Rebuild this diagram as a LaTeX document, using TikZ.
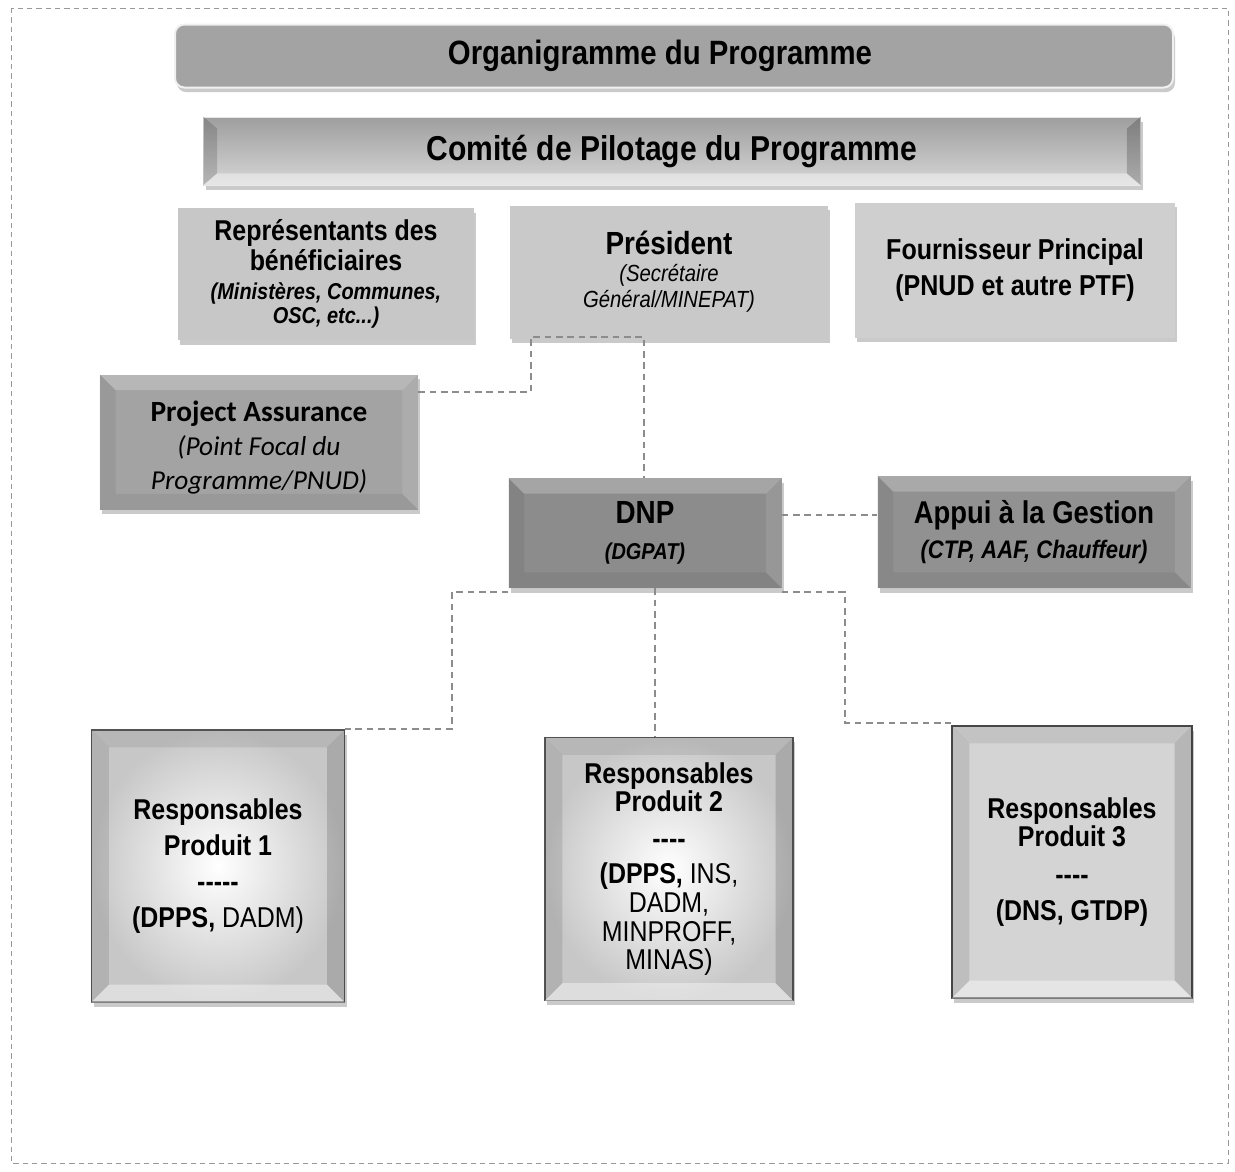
\documentclass[tikz,border=0pt]{standalone}
\usepackage{fontspec}
\setmainfont{Liberation Sans}[FakeStretch=0.87]
\newfontfamily\calibri{Carlito}
\usepackage{tikz}
\usetikzlibrary{calc,shadows}

\begin{document}
\begin{tikzpicture}[x=0.75pt,y=0.75pt,yscale=-1,xscale=1,
  box/.style={inner sep=0pt, align=center, text=black},
  shade/.style={drop shadow={shadow xshift=1.5pt, shadow yshift=-3.5pt, opacity=0.35, fill=black!60}},
  link/.style={draw=black!45, line width=0.9pt, dash pattern=on 5pt off 3.5pt}]
\useasboundingbox (0,0) rectangle (1235,1171);

%Frame
\draw [black!40, line width=0.6pt, dash pattern=on 4pt off 3pt] (11,8) rectangle (1228,1163);

% Title bars
\node [box, shade, fill=black!36, draw=black!6, line width=1.5pt, rounded corners=7pt, minimum width=748.5pt, minimum height=47.25pt, font=\bfseries\fontsize{25.3}{29}\selectfont] (titre) at (674,56) {Organigramme du Programme\hspace{21pt}\mbox{}};
\node [box, shade, top color=black!38, bottom color=black!16, draw=black!10, minimum width=702.75pt, minimum height=51pt, font=\bfseries\fontsize{25.9}{29}\selectfont] (comite) at (672,151) {Comité de Pilotage du Programme};

% Board members
\node [box, shade, fill=black!22, minimum width=222pt, minimum height=99pt, font=\bfseries\fontsize{21.5}{22.5}\selectfont] (repr) at (326,274) {Représentants des\\bénéficiaires\\[-1pt]{\itshape\fontsize{17.2}{18}\selectfont (Ministères, Communes,}\\[-4pt]{\itshape\fontsize{17.2}{18}\selectfont OSC, etc...)}};
\node [box, shade, fill=black!21, minimum width=238.5pt, minimum height=99.75pt, font=\fontsize{17.5}{19.5}\selectfont] (pres) at (669,272) {{\bfseries\fontsize{24}{24}\selectfont Président}\\[1pt]{\itshape (Secrétaire}\\{\itshape Général/MINEPAT)}};
\node [box, shade, fill=black!19, minimum width=240pt, minimum height=101.25pt, font=\bfseries\fontsize{21.6}{27}\selectfont] (fourn) at (1015,270) {Fournisseur Principal\\(PNUD et autre PTF)};

% Management
\node [box, shade, fill=black!36, minimum width=238.5pt, minimum height=101.25pt, font=\calibri\fontsize{20.5}{25.5}\selectfont] (pa) at (259,442) {{\bfseries\fontsize{22}{26}\selectfont\rule{0pt}{24pt}Project Assurance}\\{\itshape (Point Focal du}\\{\itshape Programme/PNUD)}};
\node [box, shade, fill=black!45, minimum width=204.75pt, minimum height=82.5pt, font=\fontsize{17.2}{27}\selectfont] (dnp) at (645,533) {{\bfseries\fontsize{24}{24}\selectfont DNP}\\{\bfseries\itshape (DGPAT)}};
\node [box, shade, fill=black!43, minimum width=234.75pt, minimum height=84pt, font=\fontsize{19}{26}\selectfont] (appui) at (1034,532) {{\bfseries\fontsize{23.6}{24}\selectfont Appui à la Gestion}\\{\bfseries\itshape (CTP, AAF, Chauffeur)}};

% Products
\node [box, shade, inner color=white, outer color=black!22, draw=black!65, line width=0.8pt, minimum width=189.75pt, minimum height=204pt, font=\bfseries\fontsize{21.5}{27}\selectfont] (prod1) at (218,866) {Responsables\\Produit 1\\-\kern0pt-\kern0pt-\kern0pt-\kern0pt-\\(DPPS, {\mdseries DADM)}};
\node [box, shade, inner color=white, outer color=black!22, draw=black!65, line width=0.8pt, minimum width=186pt, minimum height=197.25pt, font=\bfseries\fontsize{21.5}{21.5}\selectfont] (prod2) at (669,869) {Responsables\\Produit 2\\[6pt]-\kern0pt-\kern0pt-\kern0pt-\\[5pt](DPPS, {\mdseries INS,}\\{\mdseries DADM,}\\{\mdseries MINPROFF,}\\{\mdseries MINAS)}};
\node [box, shade, fill=black!17, draw=black!70, line width=0.8pt, minimum width=180pt, minimum height=204pt, font=\bfseries\fontsize{21.5}{21}\selectfont] (prod3) at (1072,862) {Responsables\\Produit 3\\[7pt]-\kern0pt-\kern0pt-\kern0pt-\\[6pt](DNS, GTDP)};

% Bevels
\fill [black, opacity=0.15] (comite.north west) -- ($(comite.north west)+(14,12)$) -- ($(comite.south west)+(14,-12)$) -- (comite.south west) -- cycle;
\fill [white, opacity=0.4] (comite.south west) -- ($(comite.south west)+(14,-12)$) -- ($(comite.south east)+(-14,-12)$) -- (comite.south east) -- cycle;
\fill [black, opacity=0.2] (comite.north east) -- ($(comite.north east)+(-14,12)$) -- ($(comite.south east)+(-14,-12)$) -- (comite.south east) -- cycle;
\foreach \n in {pa,dnp,appui} {
  \fill [white, opacity=0.22] (\n.north west) -- (\n.north east) -- ($(\n.north east)+(-16,16)$) -- ($(\n.north west)+(16,16)$) -- cycle;
  \fill [black, opacity=0.06] (\n.north west) -- ($(\n.north west)+(16,16)$) -- ($(\n.south west)+(16,-16)$) -- (\n.south west) -- cycle;
  \fill [white, opacity=0.1] (\n.north east) -- ($(\n.north east)+(-16,16)$) -- ($(\n.south east)+(-16,-16)$) -- (\n.south east) -- cycle;
  \fill [black, opacity=0.06] (\n.south west) -- ($(\n.south west)+(16,-16)$) -- ($(\n.south east)+(-16,-16)$) -- (\n.south east) -- cycle;
}
\foreach \n in {prod1,prod2,prod3} {
  \fill [black, opacity=0.08] (\n.north west) -- (\n.north east) -- ($(\n.north east)+(-18,18)$) -- ($(\n.north west)+(18,18)$) -- cycle;
  \fill [black, opacity=0.1] (\n.north west) -- ($(\n.north west)+(18,18)$) -- ($(\n.south west)+(18,-18)$) -- (\n.south west) -- cycle;
  \fill [black, opacity=0.14] (\n.north east) -- ($(\n.north east)+(-18,18)$) -- ($(\n.south east)+(-18,-18)$) -- (\n.south east) -- cycle;
  \fill [white, opacity=0.4] (\n.south west) -- ($(\n.south west)+(18,-18)$) -- ($(\n.south east)+(-18,-18)$) -- (\n.south east) -- cycle;
}

% Links
\coordinate (jP) at (531,337);
\coordinate (jA) at (531,392);
\draw [link] (pa.east |- jA) -- (jA) -- (jP) -- (644,337) -- (dnp.north -| 644,0);
\draw [link] (dnp.east |- 0,515) -- (appui.west |- 0,515);
\draw [link] (dnp.south -| 655,0) -- (prod2.north -| 655,0);
\draw [link] (dnp.south west |- 0,592) -- (452,592) -- (452,729) -- (prod1.east |- 0,729);
\draw [link] (dnp.south east |- 0,592) -- (845,592) -- (845,723) -- (prod3.west |- 0,723);

\end{tikzpicture}
\end{document}
